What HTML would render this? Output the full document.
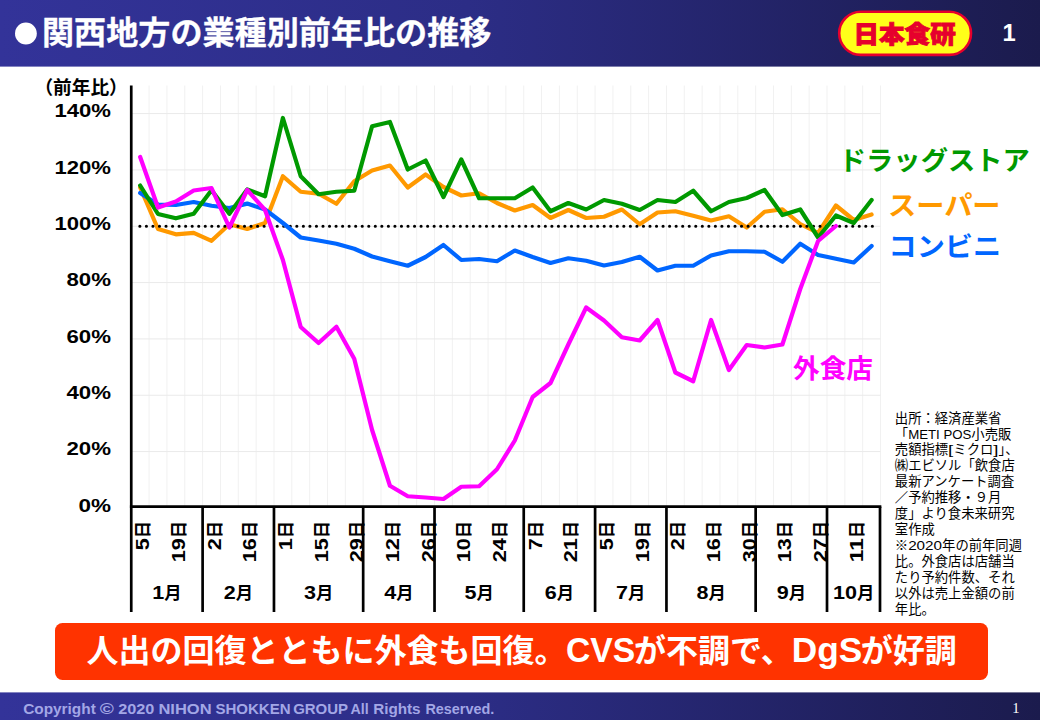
<!DOCTYPE html>
<html lang="ja"><head><meta charset="utf-8"><title>関西地方の業種別前年比の推移</title>
<style>html,body{margin:0;padding:0;background:#fff}body{width:1040px;height:720px;overflow:hidden;font-family:"Liberation Sans",sans-serif}svg{display:block}</style></head>
<body>
<svg width="1040" height="720" viewBox="0 0 1040 720" role="img" aria-label="関西地方の業種別前年比の推移">
<defs>
<linearGradient id="hg" x1="0" y1="0" x2="1" y2="0"><stop offset="0" stop-color="#333399"/><stop offset="0.45" stop-color="#2c2d86"/><stop offset="1" stop-color="#1b1b4d"/></linearGradient>
</defs>
<rect width="1040" height="720" fill="#fff"/>
<rect width="1040" height="66.6" fill="url(#hg)"/>
<rect y="692.4" width="1040" height="27.6" fill="url(#hg)"/>
<circle cx="25.9" cy="33.5" r="10.9" fill="#fff"/>
<g transform="translate(42.00 44.20)" fill="#fff" stroke="#fff" stroke-width="0.3"><text x="0.00" y="0" font-family="'Liberation Sans', 'Noto Sans CJK JP', sans-serif" font-size="32.00" font-weight="bold" textLength="449.4" lengthAdjust="spacingAndGlyphs">関西地方の業種別前年比の推移</text></g>
<rect x="839.2" y="11.7" width="131.8" height="43.2" rx="21.6" fill="#ffff19" stroke="#e6002d" stroke-width="2.6"/>
<g transform="translate(904.60 43.40)" fill="#e6002d" stroke="#e6002d" stroke-width="0.9"><text x="-51.01" y="0" font-family="'Liberation Sans', 'Noto Sans CJK JP', sans-serif" font-size="23.40" font-weight="900" textLength="102.04" lengthAdjust="spacingAndGlyphs">日本食研</text></g>
<text x="1002.6" y="41.3" font-family="Liberation Sans, sans-serif" font-weight="bold" font-size="23.7" fill="#fff" textLength="13.2" lengthAdjust="spacingAndGlyphs">1</text>
<g stroke="#eaeaea" stroke-width="1" fill="none"><path stroke="#f1f1f1" d="M149.09 85.50V507.90"/><path stroke="#f1f1f1" d="M166.93 85.50V507.90"/><path stroke="#f1f1f1" d="M184.77 85.50V507.90"/><path stroke="#f1f1f1" d="M202.61 85.50V507.90"/><path stroke="#f1f1f1" d="M220.45 85.50V507.90"/><path stroke="#f1f1f1" d="M238.29 85.50V507.90"/><path stroke="#f1f1f1" d="M256.13 85.50V507.90"/><path stroke="#f1f1f1" d="M273.97 85.50V507.90"/><path stroke="#f1f1f1" d="M291.81 85.50V507.90"/><path stroke="#f1f1f1" d="M309.65 85.50V507.90"/><path stroke="#f1f1f1" d="M327.49 85.50V507.90"/><path stroke="#f1f1f1" d="M345.33 85.50V507.90"/><path stroke="#f1f1f1" d="M363.17 85.50V507.90"/><path stroke="#f1f1f1" d="M381.01 85.50V507.90"/><path stroke="#f1f1f1" d="M398.85 85.50V507.90"/><path stroke="#f1f1f1" d="M416.69 85.50V507.90"/><path stroke="#f1f1f1" d="M434.53 85.50V507.90"/><path stroke="#f1f1f1" d="M452.37 85.50V507.90"/><path stroke="#f1f1f1" d="M470.21 85.50V507.90"/><path stroke="#f1f1f1" d="M488.05 85.50V507.90"/><path stroke="#f1f1f1" d="M505.89 85.50V507.90"/><path stroke="#f1f1f1" d="M523.73 85.50V507.90"/><path stroke="#f1f1f1" d="M541.57 85.50V507.90"/><path stroke="#f1f1f1" d="M559.41 85.50V507.90"/><path stroke="#f1f1f1" d="M577.25 85.50V507.90"/><path stroke="#f1f1f1" d="M595.09 85.50V507.90"/><path stroke="#f1f1f1" d="M612.93 85.50V507.90"/><path stroke="#f1f1f1" d="M630.77 85.50V507.90"/><path stroke="#f1f1f1" d="M648.61 85.50V507.90"/><path stroke="#f1f1f1" d="M666.45 85.50V507.90"/><path stroke="#f1f1f1" d="M684.29 85.50V507.90"/><path stroke="#f1f1f1" d="M702.13 85.50V507.90"/><path stroke="#f1f1f1" d="M719.97 85.50V507.90"/><path stroke="#f1f1f1" d="M737.81 85.50V507.90"/><path stroke="#f1f1f1" d="M755.65 85.50V507.90"/><path stroke="#f1f1f1" d="M773.49 85.50V507.90"/><path stroke="#f1f1f1" d="M791.33 85.50V507.90"/><path stroke="#f1f1f1" d="M809.17 85.50V507.90"/><path stroke="#f1f1f1" d="M827.01 85.50V507.90"/><path stroke="#f1f1f1" d="M844.85 85.50V507.90"/><path stroke="#f1f1f1" d="M862.69 85.50V507.90"/><path stroke="#f1f1f1" d="M880.53 85.50V507.90"/><path d="M131.25 451.57H880.53"/><path d="M131.25 395.24H880.53"/><path d="M131.25 338.91H880.53"/><path d="M131.25 282.58H880.53"/><path d="M131.25 226.25H880.53"/><path d="M131.25 169.92H880.53"/><path d="M131.25 113.59H880.53"/></g>
<g fill="none" stroke-width="4.20" stroke-linecap="round" stroke-linejoin="round">
<polyline points="140.17,187.50 158.01,229.00 175.85,234.30 193.69,232.80 211.53,240.80 229.37,224.30 247.21,229.00 265.05,223.00 282.89,176.25 300.73,191.75 318.57,193.75 336.41,203.75 354.25,181.25 372.09,170.50 389.93,165.50 407.77,187.50 425.61,174.50 443.45,187.00 461.29,195.50 479.13,193.25 496.97,203.00 514.81,210.50 532.65,205.00 550.49,218.00 568.33,210.00 586.17,218.00 604.01,216.75 621.85,209.50 639.69,224.25 657.53,212.50 675.37,211.25 693.21,215.75 711.05,220.50 728.89,216.25 746.73,227.50 764.57,211.75 782.41,209.25 800.25,224.00 818.09,233.00 835.93,205.50 853.77,220.00 871.61,214.50" stroke="#ff9900"/>
<path d="M139.87 226.25H873.11" stroke="#000" stroke-width="3.15" stroke-dasharray="0 6.54"/>
<polyline points="140.17,193.00 158.01,204.50 175.85,205.00 193.69,202.00 211.53,205.75 229.37,208.00 247.21,203.60 265.05,209.50 282.89,223.00 300.73,237.50 318.57,240.50 336.41,243.75 354.25,248.75 372.09,256.50 389.93,261.25 407.77,265.75 425.61,257.00 443.45,245.00 461.29,260.00 479.13,259.00 496.97,261.25 514.81,250.50 532.65,257.00 550.49,263.00 568.33,258.25 586.17,260.75 604.01,265.50 621.85,262.00 639.69,256.75 657.53,270.50 675.37,265.75 693.21,265.75 711.05,255.50 728.89,251.25 746.73,251.25 764.57,251.75 782.41,261.75 800.25,243.75 818.09,255.00 835.93,258.75 853.77,262.50 871.61,246.00" stroke="#0066ff"/>
<polyline points="140.17,185.50 158.01,214.00 175.85,218.30 193.69,213.80 211.53,190.20 229.37,213.80 247.21,189.50 265.05,196.25 282.89,118.00 300.73,176.25 318.57,194.25 336.41,191.75 354.25,190.75 372.09,126.25 389.93,122.00 407.77,169.50 425.61,160.50 443.45,197.00 461.29,159.50 479.13,198.25 496.97,198.25 514.81,198.25 532.65,187.50 550.49,211.25 568.33,203.00 586.17,209.50 604.01,200.00 621.85,203.75 639.69,210.00 657.53,200.00 675.37,202.00 693.21,190.75 711.05,211.25 728.89,202.00 746.73,198.00 764.57,190.00 782.41,215.00 800.25,209.50 818.09,237.50 835.93,215.50 853.77,223.00 871.61,200.00" stroke="#009900"/>
<polyline points="140.17,157.00 158.01,207.50 175.85,201.50 193.69,190.50 211.53,188.00 229.37,227.50 247.21,190.00 265.05,210.00 282.89,260.00 300.73,327.00 318.57,343.00 336.41,326.75 354.25,358.75 372.09,430.00 389.93,485.75 407.77,496.25 425.61,497.50 443.45,499.00 461.29,486.75 479.13,486.25 496.97,469.25 514.81,440.50 532.65,397.00 550.49,383.00 568.33,344.50 586.17,307.50 604.01,320.50 621.85,337.25 639.69,340.50 657.53,320.00 675.37,372.50 693.21,381.25 711.05,320.00 728.89,370.00 746.73,345.00 764.57,347.50 782.41,344.50 800.25,289.00 818.09,241.00 835.93,226.00" stroke="#ff00ff"/>
</g>
<g transform="translate(34.40 93.80)" fill="#000"><text x="0.00" y="0" font-family="'Liberation Sans', 'Noto Sans CJK JP', sans-serif" font-size="18.67" font-weight="bold" textLength="93.35" lengthAdjust="spacingAndGlyphs">（前年比）</text></g>
<g transform="translate(111.00 511.50)" fill="#000"><text x="-32.50" y="0.00" font-family="Liberation Sans, sans-serif" font-size="18.10" font-weight="bold" textLength="32.50" lengthAdjust="spacingAndGlyphs">0%</text></g>
<g transform="translate(111.00 455.17)" fill="#000"><text x="-44.50" y="0.00" font-family="Liberation Sans, sans-serif" font-size="18.10" font-weight="bold" textLength="44.50" lengthAdjust="spacingAndGlyphs">20%</text></g>
<g transform="translate(111.00 398.84)" fill="#000"><text x="-44.50" y="0.00" font-family="Liberation Sans, sans-serif" font-size="18.10" font-weight="bold" textLength="44.50" lengthAdjust="spacingAndGlyphs">40%</text></g>
<g transform="translate(111.00 342.51)" fill="#000"><text x="-44.50" y="0.00" font-family="Liberation Sans, sans-serif" font-size="18.10" font-weight="bold" textLength="44.50" lengthAdjust="spacingAndGlyphs">60%</text></g>
<g transform="translate(111.00 286.18)" fill="#000"><text x="-44.50" y="0.00" font-family="Liberation Sans, sans-serif" font-size="18.10" font-weight="bold" textLength="44.50" lengthAdjust="spacingAndGlyphs">80%</text></g>
<g transform="translate(111.00 229.85)" fill="#000"><text x="-56.50" y="0.00" font-family="Liberation Sans, sans-serif" font-size="18.10" font-weight="bold" textLength="56.50" lengthAdjust="spacingAndGlyphs">100%</text></g>
<g transform="translate(111.00 173.52)" fill="#000"><text x="-56.50" y="0.00" font-family="Liberation Sans, sans-serif" font-size="18.10" font-weight="bold" textLength="56.50" lengthAdjust="spacingAndGlyphs">120%</text></g>
<g transform="translate(111.00 117.19)" fill="#000"><text x="-56.50" y="0.00" font-family="Liberation Sans, sans-serif" font-size="18.10" font-weight="bold" textLength="56.50" lengthAdjust="spacingAndGlyphs">140%</text></g>
<g transform="translate(149.17 520.80) rotate(-90)" fill="#000"><text x="-29.33" y="0.00" font-family="Liberation Sans, sans-serif" font-size="18.10" font-weight="bold" textLength="12.00" lengthAdjust="spacingAndGlyphs">5</text><text x="-17.33" y="0" font-family="'Liberation Sans', 'Noto Sans CJK JP', sans-serif" font-size="17.33" font-weight="bold">日</text></g>
<g transform="translate(184.85 520.80) rotate(-90)" fill="#000"><text x="-41.33" y="0.00" font-family="Liberation Sans, sans-serif" font-size="18.10" font-weight="bold" textLength="24.00" lengthAdjust="spacingAndGlyphs">19</text><text x="-17.33" y="0" font-family="'Liberation Sans', 'Noto Sans CJK JP', sans-serif" font-size="17.33" font-weight="bold">日</text></g>
<g transform="translate(220.53 520.80) rotate(-90)" fill="#000"><text x="-29.33" y="0.00" font-family="Liberation Sans, sans-serif" font-size="18.10" font-weight="bold" textLength="12.00" lengthAdjust="spacingAndGlyphs">2</text><text x="-17.33" y="0" font-family="'Liberation Sans', 'Noto Sans CJK JP', sans-serif" font-size="17.33" font-weight="bold">日</text></g>
<g transform="translate(256.21 520.80) rotate(-90)" fill="#000"><text x="-41.33" y="0.00" font-family="Liberation Sans, sans-serif" font-size="18.10" font-weight="bold" textLength="24.00" lengthAdjust="spacingAndGlyphs">16</text><text x="-17.33" y="0" font-family="'Liberation Sans', 'Noto Sans CJK JP', sans-serif" font-size="17.33" font-weight="bold">日</text></g>
<g transform="translate(291.89 520.80) rotate(-90)" fill="#000"><text x="-29.33" y="0.00" font-family="Liberation Sans, sans-serif" font-size="18.10" font-weight="bold" textLength="12.00" lengthAdjust="spacingAndGlyphs">1</text><text x="-17.33" y="0" font-family="'Liberation Sans', 'Noto Sans CJK JP', sans-serif" font-size="17.33" font-weight="bold">日</text></g>
<g transform="translate(327.57 520.80) rotate(-90)" fill="#000"><text x="-41.33" y="0.00" font-family="Liberation Sans, sans-serif" font-size="18.10" font-weight="bold" textLength="24.00" lengthAdjust="spacingAndGlyphs">15</text><text x="-17.33" y="0" font-family="'Liberation Sans', 'Noto Sans CJK JP', sans-serif" font-size="17.33" font-weight="bold">日</text></g>
<g transform="translate(363.25 520.80) rotate(-90)" fill="#000"><text x="-41.33" y="0.00" font-family="Liberation Sans, sans-serif" font-size="18.10" font-weight="bold" textLength="24.00" lengthAdjust="spacingAndGlyphs">29</text><text x="-17.33" y="0" font-family="'Liberation Sans', 'Noto Sans CJK JP', sans-serif" font-size="17.33" font-weight="bold">日</text></g>
<g transform="translate(398.93 520.80) rotate(-90)" fill="#000"><text x="-41.33" y="0.00" font-family="Liberation Sans, sans-serif" font-size="18.10" font-weight="bold" textLength="24.00" lengthAdjust="spacingAndGlyphs">12</text><text x="-17.33" y="0" font-family="'Liberation Sans', 'Noto Sans CJK JP', sans-serif" font-size="17.33" font-weight="bold">日</text></g>
<g transform="translate(434.61 520.80) rotate(-90)" fill="#000"><text x="-41.33" y="0.00" font-family="Liberation Sans, sans-serif" font-size="18.10" font-weight="bold" textLength="24.00" lengthAdjust="spacingAndGlyphs">26</text><text x="-17.33" y="0" font-family="'Liberation Sans', 'Noto Sans CJK JP', sans-serif" font-size="17.33" font-weight="bold">日</text></g>
<g transform="translate(470.29 520.80) rotate(-90)" fill="#000"><text x="-41.33" y="0.00" font-family="Liberation Sans, sans-serif" font-size="18.10" font-weight="bold" textLength="24.00" lengthAdjust="spacingAndGlyphs">10</text><text x="-17.33" y="0" font-family="'Liberation Sans', 'Noto Sans CJK JP', sans-serif" font-size="17.33" font-weight="bold">日</text></g>
<g transform="translate(505.97 520.80) rotate(-90)" fill="#000"><text x="-41.33" y="0.00" font-family="Liberation Sans, sans-serif" font-size="18.10" font-weight="bold" textLength="24.00" lengthAdjust="spacingAndGlyphs">24</text><text x="-17.33" y="0" font-family="'Liberation Sans', 'Noto Sans CJK JP', sans-serif" font-size="17.33" font-weight="bold">日</text></g>
<g transform="translate(541.65 520.80) rotate(-90)" fill="#000"><text x="-29.33" y="0.00" font-family="Liberation Sans, sans-serif" font-size="18.10" font-weight="bold" textLength="12.00" lengthAdjust="spacingAndGlyphs">7</text><text x="-17.33" y="0" font-family="'Liberation Sans', 'Noto Sans CJK JP', sans-serif" font-size="17.33" font-weight="bold">日</text></g>
<g transform="translate(577.33 520.80) rotate(-90)" fill="#000"><text x="-41.33" y="0.00" font-family="Liberation Sans, sans-serif" font-size="18.10" font-weight="bold" textLength="24.00" lengthAdjust="spacingAndGlyphs">21</text><text x="-17.33" y="0" font-family="'Liberation Sans', 'Noto Sans CJK JP', sans-serif" font-size="17.33" font-weight="bold">日</text></g>
<g transform="translate(613.01 520.80) rotate(-90)" fill="#000"><text x="-29.33" y="0.00" font-family="Liberation Sans, sans-serif" font-size="18.10" font-weight="bold" textLength="12.00" lengthAdjust="spacingAndGlyphs">5</text><text x="-17.33" y="0" font-family="'Liberation Sans', 'Noto Sans CJK JP', sans-serif" font-size="17.33" font-weight="bold">日</text></g>
<g transform="translate(648.69 520.80) rotate(-90)" fill="#000"><text x="-41.33" y="0.00" font-family="Liberation Sans, sans-serif" font-size="18.10" font-weight="bold" textLength="24.00" lengthAdjust="spacingAndGlyphs">19</text><text x="-17.33" y="0" font-family="'Liberation Sans', 'Noto Sans CJK JP', sans-serif" font-size="17.33" font-weight="bold">日</text></g>
<g transform="translate(684.37 520.80) rotate(-90)" fill="#000"><text x="-29.33" y="0.00" font-family="Liberation Sans, sans-serif" font-size="18.10" font-weight="bold" textLength="12.00" lengthAdjust="spacingAndGlyphs">2</text><text x="-17.33" y="0" font-family="'Liberation Sans', 'Noto Sans CJK JP', sans-serif" font-size="17.33" font-weight="bold">日</text></g>
<g transform="translate(720.05 520.80) rotate(-90)" fill="#000"><text x="-41.33" y="0.00" font-family="Liberation Sans, sans-serif" font-size="18.10" font-weight="bold" textLength="24.00" lengthAdjust="spacingAndGlyphs">16</text><text x="-17.33" y="0" font-family="'Liberation Sans', 'Noto Sans CJK JP', sans-serif" font-size="17.33" font-weight="bold">日</text></g>
<g transform="translate(755.73 520.80) rotate(-90)" fill="#000"><text x="-41.33" y="0.00" font-family="Liberation Sans, sans-serif" font-size="18.10" font-weight="bold" textLength="24.00" lengthAdjust="spacingAndGlyphs">30</text><text x="-17.33" y="0" font-family="'Liberation Sans', 'Noto Sans CJK JP', sans-serif" font-size="17.33" font-weight="bold">日</text></g>
<g transform="translate(791.41 520.80) rotate(-90)" fill="#000"><text x="-41.33" y="0.00" font-family="Liberation Sans, sans-serif" font-size="18.10" font-weight="bold" textLength="24.00" lengthAdjust="spacingAndGlyphs">13</text><text x="-17.33" y="0" font-family="'Liberation Sans', 'Noto Sans CJK JP', sans-serif" font-size="17.33" font-weight="bold">日</text></g>
<g transform="translate(827.09 520.80) rotate(-90)" fill="#000"><text x="-41.33" y="0.00" font-family="Liberation Sans, sans-serif" font-size="18.10" font-weight="bold" textLength="24.00" lengthAdjust="spacingAndGlyphs">27</text><text x="-17.33" y="0" font-family="'Liberation Sans', 'Noto Sans CJK JP', sans-serif" font-size="17.33" font-weight="bold">日</text></g>
<g transform="translate(862.77 520.80) rotate(-90)" fill="#000"><text x="-41.33" y="0.00" font-family="Liberation Sans, sans-serif" font-size="18.10" font-weight="bold" textLength="24.00" lengthAdjust="spacingAndGlyphs">11</text><text x="-17.33" y="0" font-family="'Liberation Sans', 'Noto Sans CJK JP', sans-serif" font-size="17.33" font-weight="bold">日</text></g>
<g transform="translate(166.93 599.10)" fill="#000"><text x="-14.66" y="0.00" font-family="Liberation Sans, sans-serif" font-size="18.10" font-weight="bold" textLength="12.00" lengthAdjust="spacingAndGlyphs">1</text><text x="-2.66" y="0" font-family="'Liberation Sans', 'Noto Sans CJK JP', sans-serif" font-size="17.33" font-weight="bold">月</text></g>
<g transform="translate(238.29 599.10)" fill="#000"><text x="-14.66" y="0.00" font-family="Liberation Sans, sans-serif" font-size="18.10" font-weight="bold" textLength="12.00" lengthAdjust="spacingAndGlyphs">2</text><text x="-2.66" y="0" font-family="'Liberation Sans', 'Noto Sans CJK JP', sans-serif" font-size="17.33" font-weight="bold">月</text></g>
<g transform="translate(318.57 599.10)" fill="#000"><text x="-14.66" y="0.00" font-family="Liberation Sans, sans-serif" font-size="18.10" font-weight="bold" textLength="12.00" lengthAdjust="spacingAndGlyphs">3</text><text x="-2.66" y="0" font-family="'Liberation Sans', 'Noto Sans CJK JP', sans-serif" font-size="17.33" font-weight="bold">月</text></g>
<g transform="translate(398.85 599.10)" fill="#000"><text x="-14.66" y="0.00" font-family="Liberation Sans, sans-serif" font-size="18.10" font-weight="bold" textLength="12.00" lengthAdjust="spacingAndGlyphs">4</text><text x="-2.66" y="0" font-family="'Liberation Sans', 'Noto Sans CJK JP', sans-serif" font-size="17.33" font-weight="bold">月</text></g>
<g transform="translate(479.13 599.10)" fill="#000"><text x="-14.66" y="0.00" font-family="Liberation Sans, sans-serif" font-size="18.10" font-weight="bold" textLength="12.00" lengthAdjust="spacingAndGlyphs">5</text><text x="-2.66" y="0" font-family="'Liberation Sans', 'Noto Sans CJK JP', sans-serif" font-size="17.33" font-weight="bold">月</text></g>
<g transform="translate(559.41 599.10)" fill="#000"><text x="-14.66" y="0.00" font-family="Liberation Sans, sans-serif" font-size="18.10" font-weight="bold" textLength="12.00" lengthAdjust="spacingAndGlyphs">6</text><text x="-2.66" y="0" font-family="'Liberation Sans', 'Noto Sans CJK JP', sans-serif" font-size="17.33" font-weight="bold">月</text></g>
<g transform="translate(630.77 599.10)" fill="#000"><text x="-14.66" y="0.00" font-family="Liberation Sans, sans-serif" font-size="18.10" font-weight="bold" textLength="12.00" lengthAdjust="spacingAndGlyphs">7</text><text x="-2.66" y="0" font-family="'Liberation Sans', 'Noto Sans CJK JP', sans-serif" font-size="17.33" font-weight="bold">月</text></g>
<g transform="translate(711.05 599.10)" fill="#000"><text x="-14.66" y="0.00" font-family="Liberation Sans, sans-serif" font-size="18.10" font-weight="bold" textLength="12.00" lengthAdjust="spacingAndGlyphs">8</text><text x="-2.66" y="0" font-family="'Liberation Sans', 'Noto Sans CJK JP', sans-serif" font-size="17.33" font-weight="bold">月</text></g>
<g transform="translate(791.33 599.10)" fill="#000"><text x="-14.66" y="0.00" font-family="Liberation Sans, sans-serif" font-size="18.10" font-weight="bold" textLength="12.00" lengthAdjust="spacingAndGlyphs">9</text><text x="-2.66" y="0" font-family="'Liberation Sans', 'Noto Sans CJK JP', sans-serif" font-size="17.33" font-weight="bold">月</text></g>
<g transform="translate(853.77 599.10)" fill="#000"><text x="-20.66" y="0.00" font-family="Liberation Sans, sans-serif" font-size="18.10" font-weight="bold" textLength="24.00" lengthAdjust="spacingAndGlyphs">10</text><text x="3.34" y="0" font-family="'Liberation Sans', 'Noto Sans CJK JP', sans-serif" font-size="17.33" font-weight="bold">月</text></g>
<g stroke="#000" stroke-width="2.70" fill="none"><path d="M131.25 85.50V612.00"/><path d="M129.90 506.70H881.35"/><path d="M202.61 506.70V612"/><path d="M273.97 506.70V612"/><path d="M363.17 506.70V612"/><path d="M434.53 506.70V612"/><path d="M523.73 506.70V612"/><path d="M595.09 506.70V612"/><path d="M666.45 506.70V612"/><path d="M755.65 506.70V612"/><path d="M827.01 506.70V612"/><path d="M880.00 506.70V612"/></g>
<g transform="translate(838.80 170.20)" fill="#009900"><text x="0.00" y="0" font-family="'Liberation Sans', 'Noto Sans CJK JP', sans-serif" font-size="26.67" font-weight="bold" textLength="190.96" lengthAdjust="spacingAndGlyphs">ドラッグストア</text></g>
<g transform="translate(888.00 214.90)" fill="#ff9900"><text x="0.00" y="0" font-family="'Liberation Sans', 'Noto Sans CJK JP', sans-serif" font-size="26.67" font-weight="bold" textLength="112.56" lengthAdjust="spacingAndGlyphs">スーパー</text></g>
<g transform="translate(888.50 255.60)" fill="#0066ff"><text x="0.00" y="0" font-family="'Liberation Sans', 'Noto Sans CJK JP', sans-serif" font-size="26.67" font-weight="bold" textLength="112.56" lengthAdjust="spacingAndGlyphs">コンビニ</text></g>
<g transform="translate(793.00 378.20)" fill="#ff00ff"><text x="0.00" y="0" font-family="'Liberation Sans', 'Noto Sans CJK JP', sans-serif" font-size="26.67" font-weight="bold">外食店</text></g>
<g transform="translate(894.80 422.60)" fill="#000"><text x="0.00" y="0" font-family="'Liberation Sans', 'Noto Sans CJK JP', sans-serif" font-size="13.33">出所：経済産業省</text></g>
<g transform="translate(894.80 438.54)" fill="#000"><text x="0.00" y="0" font-family="'Liberation Sans', 'Noto Sans CJK JP', sans-serif" font-size="13.33">「</text><text x="13.33" y="0.00" font-family="Liberation Sans, sans-serif" font-size="12.80" textLength="63.23" lengthAdjust="spacingAndGlyphs">METI POS</text><text x="76.56" y="0" font-family="'Liberation Sans', 'Noto Sans CJK JP', sans-serif" font-size="13.33">小売販</text></g>
<g transform="translate(894.80 454.48)" fill="#000"><text x="0.00" y="0" font-family="'Liberation Sans', 'Noto Sans CJK JP', sans-serif" font-size="13.33">売額指標</text><text x="53.32" y="0.00" font-family="Liberation Sans, sans-serif" font-size="12.80" textLength="5.20" lengthAdjust="spacingAndGlyphs">[</text><text x="58.52" y="0" font-family="'Liberation Sans', 'Noto Sans CJK JP', sans-serif" font-size="13.33">ミクロ</text><text x="98.51" y="0.00" font-family="Liberation Sans, sans-serif" font-size="12.80" textLength="5.20" lengthAdjust="spacingAndGlyphs">]</text><text x="103.71" y="0" font-family="'Liberation Sans', 'Noto Sans CJK JP', sans-serif" font-size="13.33">」、</text></g>
<g transform="translate(894.80 470.42)" fill="#000"><text x="0.00" y="0" font-family="'Liberation Sans', 'Noto Sans CJK JP', sans-serif" font-size="13.33">㈱エビソル「飲食店</text></g>
<g transform="translate(894.80 486.36)" fill="#000"><text x="0.00" y="0" font-family="'Liberation Sans', 'Noto Sans CJK JP', sans-serif" font-size="13.33">最新アンケート調査</text></g>
<g transform="translate(894.80 502.30)" fill="#000"><text x="0.00" y="0" font-family="'Liberation Sans', 'Noto Sans CJK JP', sans-serif" font-size="13.33">／予約推移・９月</text></g>
<g transform="translate(894.80 518.24)" fill="#000"><text x="0.00" y="0" font-family="'Liberation Sans', 'Noto Sans CJK JP', sans-serif" font-size="13.33">度」より食未来研究</text></g>
<g transform="translate(894.80 534.18)" fill="#000"><text x="0.00" y="0" font-family="'Liberation Sans', 'Noto Sans CJK JP', sans-serif" font-size="13.33">室作成</text></g>
<g transform="translate(894.80 550.12)" fill="#000"><text x="0.00" y="0" font-family="'Liberation Sans', 'Noto Sans CJK JP', sans-serif" font-size="13.33">※</text><text x="13.33" y="0.00" font-family="Liberation Sans, sans-serif" font-size="12.80" textLength="33.92" lengthAdjust="spacingAndGlyphs">2020</text><text x="47.25" y="0" font-family="'Liberation Sans', 'Noto Sans CJK JP', sans-serif" font-size="13.33">年の前年同週</text></g>
<g transform="translate(894.80 566.06)" fill="#000"><text x="0.00" y="0" font-family="'Liberation Sans', 'Noto Sans CJK JP', sans-serif" font-size="13.33">比。外食店は店舗当</text></g>
<g transform="translate(894.80 582.00)" fill="#000"><text x="0.00" y="0" font-family="'Liberation Sans', 'Noto Sans CJK JP', sans-serif" font-size="13.33">たり予約件数、それ</text></g>
<g transform="translate(894.80 597.94)" fill="#000"><text x="0.00" y="0" font-family="'Liberation Sans', 'Noto Sans CJK JP', sans-serif" font-size="13.33">以外は売上金額の前</text></g>
<g transform="translate(894.80 613.88)" fill="#000"><text x="0.00" y="0" font-family="'Liberation Sans', 'Noto Sans CJK JP', sans-serif" font-size="13.33">年比。</text></g>
<rect x="55" y="623" width="933" height="57" rx="7.5" fill="#ff3300"/>
<g transform="translate(86.60 662.20)" fill="#fff"><text x="0.00" y="0" font-family="'Liberation Sans', 'Noto Sans CJK JP', sans-serif" font-size="32.00" font-weight="bold">人出の回復とともに外食も回復。</text><text x="479.30" y="0.00" font-family="Liberation Sans, sans-serif" font-size="34.60" font-weight="bold" textLength="69.30" lengthAdjust="spacingAndGlyphs">CVS</text><text x="547.50" y="0" font-family="'Liberation Sans', 'Noto Sans CJK JP', sans-serif" font-size="32.00" font-weight="bold">が不調で、</text><text x="705.20" y="0.00" font-family="Liberation Sans, sans-serif" font-size="34.60" font-weight="bold" textLength="70.60" lengthAdjust="spacingAndGlyphs">DgS</text><text x="774.10" y="0" font-family="'Liberation Sans', 'Noto Sans CJK JP', sans-serif" font-size="32.00" font-weight="bold">が好調</text></g>
<g font-family="Liberation Sans, sans-serif" font-weight="bold" font-size="15.4" fill="#a3a7e6"><text x="23.15" y="713.8" textLength="72.65" lengthAdjust="spacingAndGlyphs">Copyright</text><text x="99.70" y="713.8" textLength="14.10" lengthAdjust="spacingAndGlyphs">©</text><text x="118.15" y="713.8" textLength="36.20" lengthAdjust="spacingAndGlyphs">2020</text><text x="158.40" y="713.8" textLength="53.20" lengthAdjust="spacingAndGlyphs">NIHON</text><text x="215.40" y="713.8" textLength="75.20" lengthAdjust="spacingAndGlyphs">SHOKKEN</text><text x="293.15" y="713.8" textLength="54.95" lengthAdjust="spacingAndGlyphs">GROUP</text><text x="350.40" y="713.8" textLength="18.20" lengthAdjust="spacingAndGlyphs">All</text><text x="373.15" y="713.8" textLength="47.45" lengthAdjust="spacingAndGlyphs">Rights</text><text x="425.40" y="713.8" textLength="68.95" lengthAdjust="spacingAndGlyphs">Reserved.</text></g>
<text x="1012.2" y="712.6" font-family="Liberation Serif, serif" font-size="14.6" fill="#fff">1</text>
</svg>
</body></html>
